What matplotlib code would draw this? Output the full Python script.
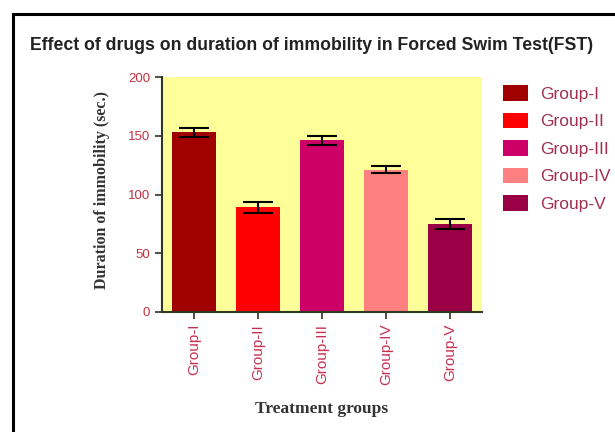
import numpy as np
import matplotlib.pyplot as plt
from matplotlib.patches import Rectangle

groups = ['Group-I', 'Group-II', 'Group-III', 'Group-IV', 'Group-V']
means = [153, 89, 146, 121, 75]
errs = [4, 5, 4, 3, 4]
colors = ['#A00000', '#FF0000', '#CC0066', '#FF8080', '#990045']

fig = plt.figure(figsize=(6.15, 4.32), dpi=100)
# axes placed in pixels: x 162..482, y 77..312 (from top)
W, H = 615, 432
ax = fig.add_axes([162 / W, 1 - 312 / H, 320 / W, 235 / H])
ax.set_facecolor('#FFFF99')

x = np.arange(len(groups))
for i in range(len(groups)):
    ax.bar(x[i], means[i], width=0.7, color=colors[i], label=groups[i], zorder=2)
ax.errorbar(x, means, yerr=errs, fmt='none', ecolor='black', elinewidth=1.5,
            capsize=11, capthick=1.5, zorder=3)

ax.set_xlim(-0.5, 4.5)
ax.set_ylim(0, 200)
ax.set_yticks([0, 50, 100, 150, 200])
ax.set_xticks(x)
ax.set_xticklabels(groups, rotation=90, color='#C83050', fontsize=11,
                   family='Liberation Sans')
for lab in ax.get_yticklabels():
    lab.set_color('#C83040')
    lab.set_fontsize(9.5)
    lab.set_family('Liberation Sans')
ax.tick_params(axis='both', direction='out', length=5, width=1.2, color='#333322')

for s in ['top', 'right']:
    ax.spines[s].set_visible(False)
for s in ['left', 'bottom']:
    ax.spines[s].set_color('#2F3A22')
    ax.spines[s].set_linewidth(1.5)

ax.set_ylabel('Duration of immobility (sec.)', family='Liberation Serif',
              fontweight='bold', fontsize=11.5, color='#333333')
ax.yaxis.set_label_coords(-0.1625, 0.52)
ax.set_xlabel('Treatment groups', family='Liberation Serif', fontweight='bold',
              fontsize=12.5, color='#333333')
ax.xaxis.set_label_coords(0.5, -0.38)

fig.text(30 / W, 1 - 45 / H,
         'Effect of drugs on duration of immobility in Forced Swim Test(FST)',
         family='Liberation Sans', fontweight='bold', fontsize=12.7,
         color='#222222', va='center', ha='left')

leg = ax.legend(loc='upper left', bbox_to_anchor=((503 - 162) / 320, 0.965),
                frameon=False, borderaxespad=0, borderpad=0,
                handlelength=1.45, handleheight=1.0,
                labelspacing=0.62, handletextpad=0.7,
                prop={'family': 'Liberation Sans', 'size': 12.5})
for t in leg.get_texts():
    t.set_color('#A03050')

# outer frame
fig.patches.append(Rectangle((13 / W, -0.1), 1.2, 1 - 14 / H + 0.1,
                             transform=fig.transFigure, fill=False,
                             edgecolor='black', linewidth=2.2))

fig.savefig('out.png', dpi=100)
